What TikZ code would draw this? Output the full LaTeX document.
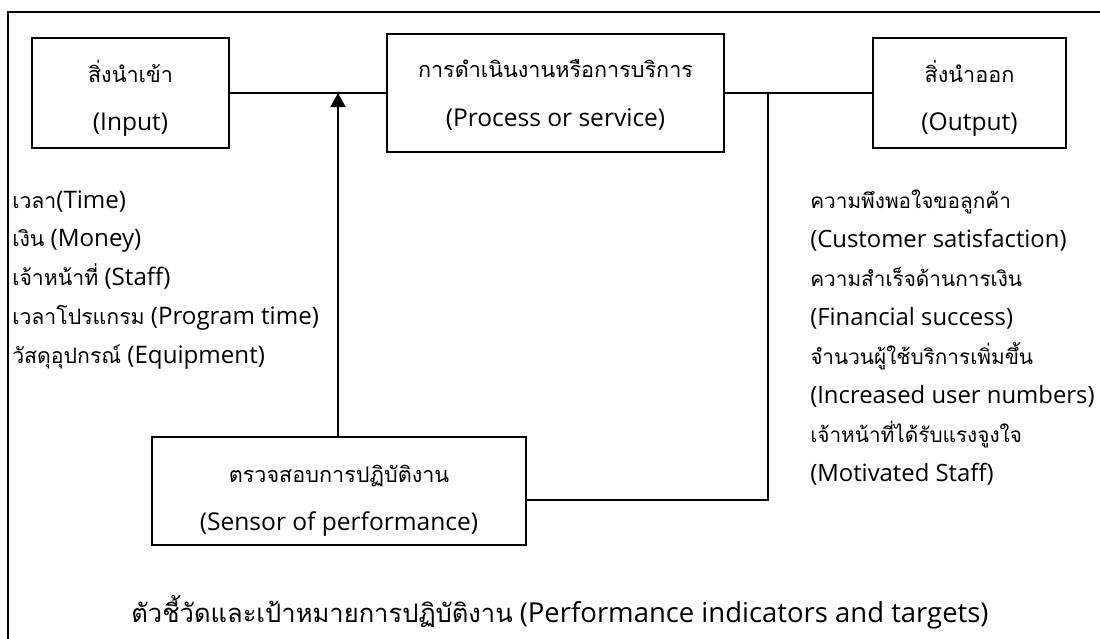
\documentclass[tikz,border=0pt]{standalone}
\usepackage{fontspec}
\setmainfont{Open Sans}
\newfontfamily\thai[Script=Thai,Scale=0.88]{Loma}
\newfontfamily\thaic[Script=Thai,Scale=0.93]{Loma}
\newfontfamily\thaiR[Script=Thai,Scale=0.87]{Loma}
\usetikzlibrary{arrows.meta}
\begin{document}
\begin{tikzpicture}[x=0.75pt,y=-0.75pt,
  boxn/.style={draw, line width=0.9pt, inner sep=0pt},
  lbl/.style={anchor=base, inner sep=0pt, font=\fontsize{18.4}{22}\selectfont},
  itemL/.style={anchor=base west, inner sep=0pt, font=\fontsize{18.1}{22}\selectfont},
  itemR/.style={anchor=base west, inner sep=0pt, font=\fontsize{17.9}{22}\selectfont},
  big/.style={anchor=base, inner sep=0pt, font=\fontsize{20.6}{24}\selectfont},
  conn/.style={line width=0.9pt},
  feedback/.style={line width=2pt, -{Triangle[length=10.5pt,width=11pt]}}]
\clip (0,0) rectangle (1100,639);
\useasboundingbox (0,0) rectangle (1100,639);
% outer frame
\draw[line width=0.8pt] (8,12) rectangle (1120,660);
% boxes
\node[boxn, minimum width=147.75pt, minimum height=82.5pt] (input) at (130.5,93) {};
\node[boxn, minimum width=252.75pt, minimum height=88.5pt] (process) at (555.5,93) {};
\node[boxn, minimum width=144.75pt, minimum height=82.5pt] (output) at (969.5,93) {};
\node[boxn, minimum width=280.5pt, minimum height=81pt] (sensor) at (339,491) {};
% box labels
\node[lbl] (inputT) at (130.5,82) {\thai สิ่งนำเข้า};
\node[lbl] (inputE) at (130.5,130) {(Input)};
\node[lbl] (processT) at (555.5,77) {\thai การดำเนินงานหรือการบริการ};
\node[lbl] (processE) at (555.5,126) {(Process or service)};
\node[lbl] (outputT) at (969.5,82) {\thai สิ่งนำออก};
\node[lbl] (outputE) at (969.5,130) {(Output)};
\node[lbl] (sensorT) at (339,482) {\thai ตรวจสอบการปฏิบัติงาน};
\node[lbl] (sensorE) at (339,530) {(Sensor of performance)};
% connectors
\coordinate (arrowtip) at (338,93);
\coordinate (junction) at (768,93);
\draw[conn] (input.east) -- (process.west);
\draw[conn] (process.east) -- (output.west);
\draw[conn] (junction) |- ([yshift=-6.75pt]sensor.east);
\draw[feedback] (sensor.north -| arrowtip) -- (arrowtip);
% input list
\node[itemL] (in1) at (12,208) {{\thai เวลา}(Time)};
\node[itemL] (in2) at (12,246.8) {{\thai เงิน} (Money)};
\node[itemL] (in3) at (12,285.6) {{\thai เจ้าหน้าที่} (Staff)};
\node[itemL] (in4) at (12,324.4) {{\thai เวลาโปรแกรม} (Program time)};
\node[itemL] (in5) at (12,363.2) {{\thai วัสดุอุปกรณ์} (Equipment)};
% output list
\node[itemR] (out1) at (810,208) {\thaiR ความพึงพอใจขอลูกค้า};
\node[itemR] (out2) at (810,247.1) {(Customer satisfaction)};
\node[itemR] (out3) at (810,286.2) {\thaiR ความสำเร็จด้านการเงิน};
\node[itemR] (out4) at (810,325.3) {(Financial success)};
\node[itemR] (out5) at (810,364.4) {\thaiR จำนวนผู้ใช้บริการเพิ่มขึ้น};
\node[itemR] (out6) at (810,403.5) {(Increased user numbers)};
\node[itemR] (out7) at (810,442.6) {\thaiR เจ้าหน้าที่ได้รับแรงจูงใจ};
\node[itemR] (out8) at (810,481.7) {(Motivated Staff)};
% bottom caption
\node[big] (caption) at (560,622) {{\thaic ตัวชี้วัดและเป้าหมายการปฏิบัติงาน} (Performance indicators and targets)};
\end{tikzpicture}
\end{document}
